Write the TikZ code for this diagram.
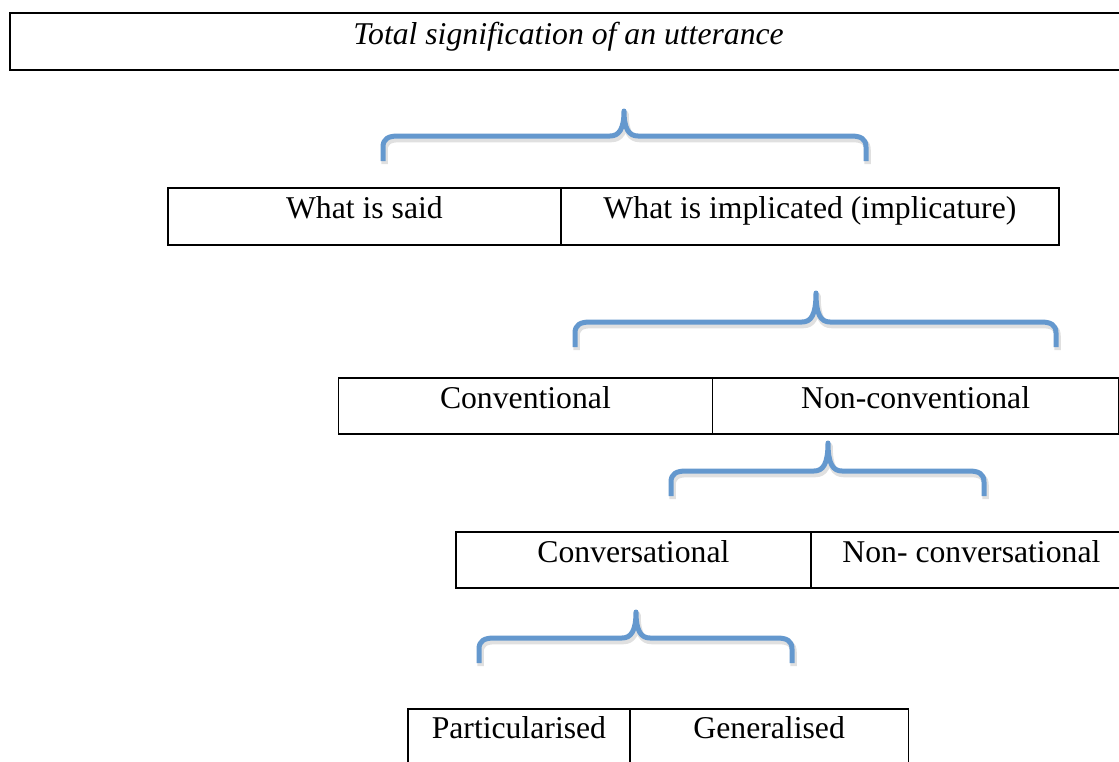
\documentclass[tikz,border=0pt]{standalone}
\usepackage{fontspec}
\setmainfont{Liberation Serif}
\definecolor{braceblue}{RGB}{100,152,206}
\newcommand{\BracePath}[6]{%
  (#1,#6) -- (#1,{#5+11}) .. controls (#1,{#5+3}) and ({#1+5},#5) .. ({#1+15},#5)
  -- ({#3-14},#5) .. controls ({#3-5},#5) and (#3,{#5-7}) .. (#3,#4)
  .. controls (#3,{#5-7}) and ({#3+5},#5) .. ({#3+14},#5)
  -- ({#2-15},#5) .. controls ({#2-5},#5) and (#2,{#5+3}) .. (#2,{#5+11}) -- (#2,#6)}
\begin{document}
\begin{tikzpicture}[x=1pt,y=-1pt,
  cell/.style={draw=black, line width=1.8pt, inner sep=0pt, anchor=north west,
    text height=31pt, text depth=25pt, font=\fontsize{31.7}{38}\selectfont},
  bracestroke/.style={draw=braceblue, line width=5pt, line join=round},
  braceshadow/.style={draw=black, opacity=0.12, line width=6.5pt, line join=round}]
\clip (0,0) rectangle (1119,761);
\fill[white] (0,0) rectangle (1119,761);

% top box (runs past the right edge of the picture)
\node[cell, line width=2.2pt, minimum width=1150pt, text depth=26pt,
  font=\fontsize{31.7}{38}\selectfont\itshape] (total) at (9,12) {Total signification of an utterance\hspace*{33pt}};

% level 1
\node[cell, minimum width=393pt, text depth=26pt] (said) at (167,187) {What is said};
\node[cell, minimum width=498pt, text depth=26pt] (impl) at (560,187) {What is implicated (implicature)};

% level 2
\node[cell, minimum width=374pt] (conv) at (337.5,377) {Conventional};
\node[cell, minimum width=406.5pt] (nonconv) at (711.5,377) {Non-conventional};

% level 3
\node[cell, minimum width=355pt] (convers) at (455,531) {Conversational};
\node[cell, minimum width=321pt] (nonconvers) at (810,531) {Non- conversational};

% level 4
\node[cell, minimum width=222pt, text height=30pt, text depth=60pt] (part) at (407,708) {Particularised};
\node[cell, minimum width=278.5pt, text height=30pt, text depth=60pt] (gen) at (629,708) {Generalised};

% braces
\coordinate (b1) at (624,111);
\coordinate (b2) at (816,293);
\coordinate (b3) at (828,443);
\coordinate (b4) at (636,612);
\begin{scope}[shift={(1.5,3)}]
\draw[braceshadow] \BracePath{383}{866}{624}{111}{136}{161};
\draw[braceshadow] \BracePath{575}{1056}{816}{293}{322}{347};
\draw[braceshadow] \BracePath{671}{984}{828}{443}{471}{496};
\draw[braceshadow] \BracePath{479}{792}{636}{612}{638}{663};
\end{scope}
\draw[bracestroke] \BracePath{383}{866}{624}{111}{136}{161};
\draw[bracestroke] \BracePath{575}{1056}{816}{293}{322}{347};
\draw[bracestroke] \BracePath{671}{984}{828}{443}{471}{496};
\draw[bracestroke] \BracePath{479}{792}{636}{612}{638}{663};
\end{tikzpicture}
\end{document}
